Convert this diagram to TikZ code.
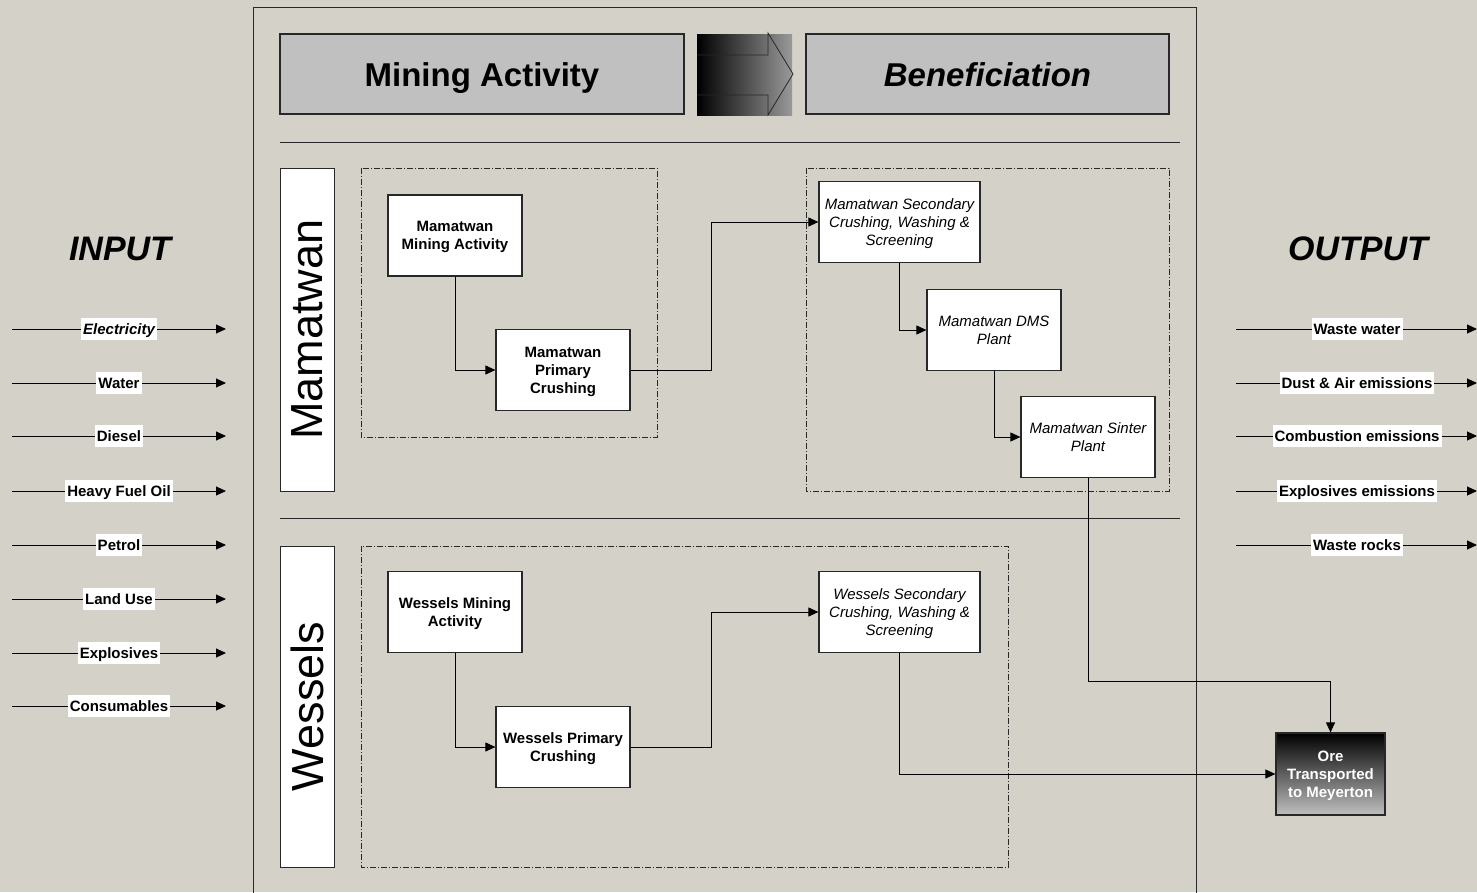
\documentclass[tikz,border=0pt]{standalone}
\usepackage{fontspec}
\setmainfont{Liberation Sans}
\usetikzlibrary{arrows.meta}
\definecolor{bg}{RGB}{212,210,200}
\definecolor{hdr}{RGB}{192,192,192}
\definecolor{edge}{RGB}{40,40,40}
\tikzset{
  proc/.style={draw=edge, line width=1.2pt, fill=white, minimum width=134pt, minimum height=81pt, align=center, inner sep=2pt, text depth=0pt, font=\fontsize{15}{18}\selectfont\bfseries},
  procit/.style={proc, font=\fontsize{15}{18}\selectfont\itshape},
  hdrbox/.style={draw=edge, line width=1.2pt, fill=hdr, minimum height=80pt, inner sep=0pt, text height=24pt, text depth=0pt},
  sidebox/.style={draw=edge, line width=1pt, fill=white, minimum width=54pt, inner sep=0pt},
  grp/.style={draw=edge, line width=0.8pt, dash pattern=on 6pt off 2pt on 1pt off 2pt},
  conn/.style={draw=black, line width=1pt, -{Triangle[length=10pt,width=9pt]}},
  flow/.style={draw=black, line width=0.9pt, -{Triangle[length=10pt,width=9pt]}},
  lab/.style={fill=white, inner xsep=2pt, inner ysep=5.5pt, text height=11pt, text depth=0pt, font=\fontsize{15}{18}\selectfont\bfseries},
  big/.style={font=\fontsize{34}{40}\selectfont\bfseries\itshape, text height=24pt, text depth=0pt}
}
\begin{document}
\begin{tikzpicture}[x=1pt,y=-1pt]
\useasboundingbox (0,0) rectangle (1477,892);
\clip (0,0) rectangle (1477,892);
\fill[bg] (0,0) rectangle (1477,892);
% main frame
\draw[edge, line width=1pt] (253,900) -- (253,7) -- (1196,7) -- (1196,900);
% headers
\node[hdrbox, minimum width=404pt, font=\fontsize{33}{40}\selectfont\bfseries] (hmin) at (482,74) {Mining Activity};
\node[hdrbox, minimum width=363pt, font=\fontsize{33}{40}\selectfont\bfseries\itshape] (hben) at (987.5,74) {Beneficiation};
\shade[left color=black, right color=black!40] (697,34) rectangle (792,115);
\draw[edge, line width=0.8pt] (697,55) -- (768,55) -- (768,33) -- (793,74) -- (768,115) -- (768,95) -- (697,95);
% separators
\draw[edge, line width=1pt] (280,142) -- (1180,142);
\draw[edge, line width=1pt] (280,518) -- (1180,518);
% side labels
\node[sidebox, minimum height=323pt] (smam) at (307,329.5) {};
\node[rotate=90, font=\fontsize{45}{50}\selectfont] at (smam.center) {Mamatwan};
\node[sidebox, minimum height=321pt] (swes) at (307,706.5) {};
\node[rotate=90, font=\fontsize{45}{50}\selectfont] at (swes.center) {Wessels};
% groups
\draw[grp] (361,168) rectangle (657,437);
\draw[grp] (806,168) rectangle (1169,491);
\draw[grp] (361,546) rectangle (1008,867);
% process nodes
\node[proc] (mm) at (455,235.5) {Mamatwan\\Mining Activity};
\node[proc] (mp) at (563,370) {Mamatwan\\Primary\\Crushing};
\node[procit, minimum width=161pt] (ms) at (899.5,222) {Mamatwan Secondary\\Crushing, Washing \&\\Screening};
\node[procit] (dms) at (994,330) {Mamatwan DMS\\Plant};
\node[procit] (sp) at (1088,437) {Mamatwan Sinter\\Plant};
\node[proc] (wm) at (455,612) {Wessels Mining\\Activity};
\node[proc] (wp) at (563,747) {Wessels Primary\\Crushing};
\node[procit, minimum width=161pt] (ws) at (899.5,612) {Wessels Secondary\\Crushing, Washing \&\\Screening};
\node[draw=edge, line width=1.2pt, top color=black, bottom color=black!25, minimum width=109pt, minimum height=82pt, align=center, text=white, inner sep=0pt, text depth=0pt, font=\fontsize{15}{18}\selectfont\bfseries] (ore) at (1330.5,774) {Ore\\Transported\\to Meyerton};
% connectors
\draw[flow] (mm.south) |- (mp.west);
\draw[flow] (mp.east) -- ++(81,0) |- (ms.west);
\draw[flow] (ms.south) |- (dms.west);
\draw[flow] (dms.south) |- (sp.west);
\draw[flow] (sp.south) -- ++(0,203) -| (ore.north);
\draw[flow] (wm.south) |- (wp.west);
\draw[flow] (wp.east) -- ++(81,0) |- (ws.west);
\draw[flow] (ws.south) |- (ore.west);
% INPUT / OUTPUT
\node[big] (tin) at (120,248) {INPUT};
\node[big] (tout) at (1358,248) {OUTPUT};
% input lines
\foreach \yy/\txt/\nm in {329/{\itshape Electricity}/i1, 383/Water/i2, 436/Diesel/i3, 491/Heavy Fuel Oil/i4, 545/Petrol/i5, 599/Land Use/i6, 653/Explosives/i7, 706/Consumables/i8}{
  \coordinate (\nm s) at (12,\yy);
  \coordinate (\nm e) at (226,\yy);
  \draw[conn] (\nm s) -- (\nm e);
  \node[lab] (\nm) at (119,\yy) {\txt};
}
\foreach \yy/\txt/\nm in {329/Waste water/o1, 383/Dust \& Air emissions/o2, 436/Combustion emissions/o3, 491/Explosives emissions/o4, 545/Waste rocks/o5}{
  \coordinate (\nm s) at (1236,\yy);
  \coordinate (\nm e) at (1477,\yy);
  \draw[conn] (\nm s) -- (\nm e);
  \node[lab] (\nm) at (1357,\yy) {\txt};
}
\end{tikzpicture}
\end{document}
